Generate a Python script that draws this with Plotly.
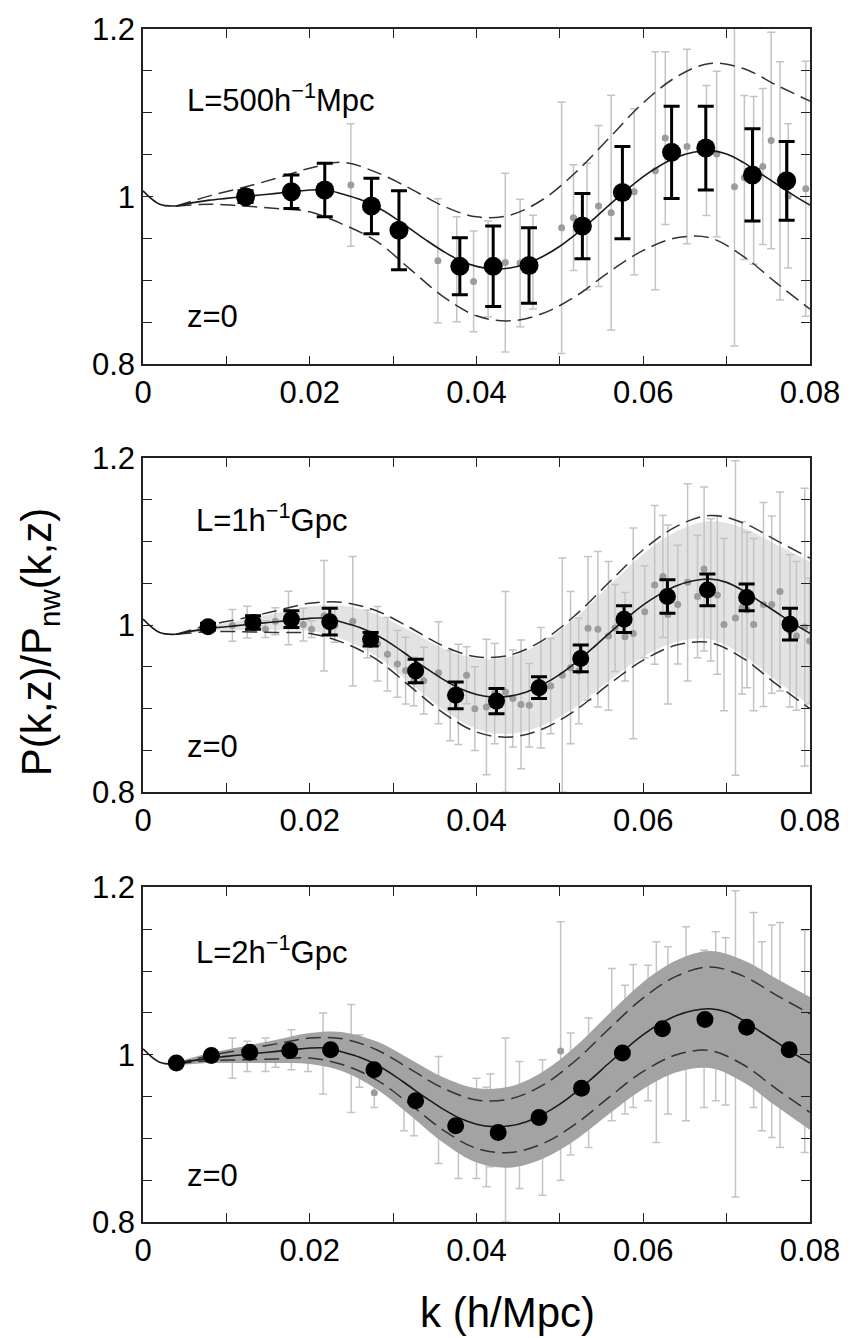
import plotly.graph_objects as go

# ---------------- data ----------------
K_MODEL = [0.000, 0.002, 0.004, 0.006, 0.008, 0.010, 0.012, 0.014, 0.016, 0.018,
           0.020, 0.022, 0.024, 0.026, 0.028, 0.030, 0.032, 0.034, 0.036, 0.038,
           0.040, 0.042, 0.044, 0.046, 0.048, 0.050, 0.052, 0.054, 0.056, 0.058,
           0.060, 0.062, 0.064, 0.066, 0.068, 0.070, 0.072, 0.074, 0.076, 0.078, 0.080]
MODEL = [1.007, 0.991, 0.989, 0.993, 0.996, 0.998, 1.000, 1.002, 1.004, 1.006,
         1.008, 1.008, 1.003, 0.997, 0.988, 0.976, 0.962, 0.948, 0.935, 0.924,
         0.917, 0.914, 0.915, 0.920, 0.929, 0.941, 0.956, 0.973, 0.991, 1.008,
         1.024, 1.037, 1.047, 1.053, 1.055, 1.051, 1.041, 1.028, 1.015, 1.002, 0.990]

K_ENV = [0.004, 0.008, 0.012, 0.016, 0.020, 0.024, 0.028, 0.032, 0.036, 0.040,
         0.044, 0.048, 0.052, 0.056, 0.060, 0.064, 0.068, 0.072, 0.076, 0.080]
UP1 = [0.989, 1.001, 1.011, 1.022, 1.034, 1.041, 1.029, 1.010, 0.989, 0.976,
       0.978, 0.997, 1.030, 1.071, 1.112, 1.143, 1.159, 1.153, 1.133, 1.114]
LO1 = [0.989, 0.991, 0.989, 0.986, 0.982, 0.967, 0.947, 0.914, 0.881, 0.858,
       0.852, 0.861, 0.882, 0.911, 0.936, 0.951, 0.951, 0.929, 0.897, 0.866]
UP2 = [0.989, 1.000, 1.008, 1.017, 1.026, 1.027, 1.017, 0.997, 0.975, 0.962,
       0.964, 0.982, 1.013, 1.052, 1.090, 1.118, 1.131, 1.122, 1.101, 1.080]
LO2 = [0.989, 0.992, 0.992, 0.991, 0.990, 0.979, 0.959, 0.927, 0.895, 0.872,
       0.866, 0.876, 0.899, 0.930, 0.958, 0.976, 0.979, 0.960, 0.929, 0.900]
UP3 = [0.989, 0.999, 1.006, 1.013, 1.020, 1.019, 1.006, 0.983, 0.960, 0.946,
       0.947, 0.964, 0.994, 1.032, 1.068, 1.094, 1.105, 1.094, 1.071, 1.049]
LO3 = [0.989, 0.993, 0.994, 0.995, 0.996, 0.988, 0.970, 0.941, 0.910, 0.888,
       0.883, 0.894, 0.918, 0.950, 0.980, 1.000, 1.005, 0.988, 0.959, 0.931]
# dense cloud of individual modes (panel 3: medium gray, panel 2: light haze)
BAND3_HI = [0.991, 1.002, 1.010, 1.018, 1.026, 1.027, 1.016, 0.995, 0.973, 0.960,
            0.962, 0.980, 1.011, 1.050, 1.087, 1.113, 1.124, 1.113, 1.091, 1.069]
BAND3_LO = [0.987, 0.990, 0.990, 0.990, 0.989, 0.980, 0.959, 0.928, 0.895, 0.871,
            0.865, 0.876, 0.899, 0.930, 0.959, 0.979, 0.984, 0.967, 0.938, 0.910]
BAND2_HI = [0.990, 0.999, 1.006, 1.014, 1.022, 1.023, 1.013, 0.993, 0.972, 0.960,
            0.962, 0.980, 1.010, 1.048, 1.085, 1.112, 1.124, 1.116, 1.096, 1.076]
BAND2_LO = [0.988, 0.993, 0.994, 0.994, 0.993, 0.983, 0.963, 0.931, 0.899, 0.876,
            0.870, 0.880, 0.903, 0.934, 0.962, 0.980, 0.983, 0.964, 0.933, 0.904]

# Panel 1 (L=500 Mpc/h): binned (black) and individual modes (gray)
P1_K = [0.0123, 0.0178, 0.0218, 0.0274, 0.0307, 0.0380, 0.0420, 0.0463, 0.0527, 0.0575,
        0.0634, 0.0675, 0.0731, 0.0772]
P1_V = [1.000, 1.006, 1.008, 0.989, 0.960, 0.917, 0.917, 0.918, 0.965, 1.005,
        1.053, 1.058, 1.026, 1.019]
P1_E = [0.007, 0.020, 0.032, 0.033, 0.047, 0.034, 0.048, 0.045, 0.039, 0.055,
        0.055, 0.050, 0.055, 0.047]
P1G_K = [0.02493, 0.03537, 0.03763, 0.03965, 0.04139, 0.04345, 0.04523, 0.04677, 0.05021, 0.05163,
         0.05326, 0.05464, 0.05615, 0.05891, 0.06145, 0.06264, 0.06525, 0.06758, 0.06881, 0.07094,
         0.07213, 0.07324, 0.07434, 0.07534, 0.07641, 0.07739, 0.07949]
P1G_V = [1.014, 0.9236, 0.9135, 0.899, 0.914, 0.9215, 0.921, 0.922, 0.963, 0.975,
         0.9645, 0.989, 0.981, 1.006, 1.031, 1.07, 1.06, 1.055, 1.051, 1.012,
         1.023, 1.0195, 1.036, 1.067, 1.019, 1.001, 1.0095]
P1G_E = [0.073, 0.074, 0.0625, 0.06, 0.057, 0.1065, 0.076, 0.056, 0.15, 0.063,
         0.0755, 0.096, 0.14, 0.099, 0.142, 0.103, 0.116, 0.0775, 0.0987, 0.19,
         0.0977, 0.1, 0.093, 0.129, 0.142, 0.086, 0.152]

# Panel 2 (L=1 Gpc/h)
P2_K = [0.0078, 0.0132, 0.0178, 0.0224, 0.0273, 0.0327, 0.0375, 0.0424, 0.0475, 0.0525,
        0.0577, 0.0629, 0.0677, 0.0724, 0.0776]
P2_V = [0.998, 1.003, 1.007, 1.004, 0.983, 0.945, 0.916, 0.909, 0.925, 0.960,
        1.007, 1.034, 1.042, 1.033, 1.001]
P2_E = [0.004, 0.008, 0.010, 0.016, 0.008, 0.014, 0.016, 0.015, 0.013, 0.016,
        0.016, 0.020, 0.019, 0.016, 0.019]
P2G_K = [0.01072, 0.0125, 0.01468, 0.01587, 0.01745, 0.01923, 0.02022, 0.02172, 0.02299, 0.02516,
         0.02694, 0.02813, 0.02932, 0.03051, 0.0315, 0.03249, 0.03367,
         0.03545, 0.03684, 0.03783, 0.03881, 0.0398, 0.04119, 0.04218, 0.04348, 0.04436, 0.04534,
         0.04633, 0.04772, 0.0489, 0.05029, 0.05128, 0.05227, 0.05338, 0.05456, 0.05583, 0.05662,
         0.05781, 0.0588, 0.06018, 0.06137, 0.06236, 0.06295, 0.06414, 0.06532, 0.06651, 0.0673,
         0.0681, 0.06889, 0.06968, 0.07106, 0.07185, 0.07245, 0.07324, 0.07442, 0.07541, 0.0764,
         0.07759, 0.07838, 0.07937, 0.07996]
P2G_V = [0.9995, 1.0035, 0.995, 1.0045, 1.0085, 1.0005, 0.995, 1.011, 0.9995, 1.0045,
         0.9895, 0.9775, 0.965, 0.9535, 0.9455, 0.9325, 0.9335,
         0.943, 0.9155, 0.917, 0.94, 0.90, 0.902, 0.918, 0.92, 0.912, 0.905,
         0.904, 0.925, 0.927, 0.94, 0.949, 0.945, 0.996, 0.995, 0.987, 0.9965,
         0.986, 0.99, 1.016, 1.048, 1.058, 1.0125, 1.0245, 1.051, 1.034, 1.067,
         1.042, 1.036, 1.0005, 1.0085, 1.0205, 1.018, 1.0005, 1.0245, 1.0245, 1.04,
         0.993, 0.987, 0.9975, 0.981]
P2G_E = [0.019, 0.019, 0.01, 0.016, 0.032, 0.0195, 0.01, 0.066, 0.02, 0.0775,
         0.0285, 0.0445, 0.044, 0.04, 0.04, 0.029, 0.04,
         0.061, 0.054, 0.06, 0.034, 0.05, 0.081, 0.06, 0.12, 0.058, 0.077,
         0.05, 0.072, 0.057, 0.14, 0.091, 0.063, 0.086, 0.093, 0.089, 0.052,
         0.053, 0.126, 0.055, 0.095, 0.073, 0.107, 0.071, 0.118, 0.073, 0.098,
         0.085, 0.095, 0.103, 0.188, 0.103, 0.093, 0.103, 0.122, 0.106, 0.119,
         0.091, 0.089, 0.166, 0.075]

# Panel 3 (L=2 Gpc/h)
P3_K = [0.0040, 0.0082, 0.0128, 0.0176, 0.0225, 0.0277, 0.0327, 0.0375, 0.0426, 0.0475,
        0.0526, 0.0575, 0.0623, 0.0674, 0.0724, 0.0775]
P3_V = [0.990, 0.999, 1.003, 1.005, 1.006, 0.982, 0.945, 0.915, 0.907, 0.925,
        0.960, 1.002, 1.031, 1.042, 1.033, 1.006]
P3G_K = [0.01072, 0.0125, 0.0147, 0.0159, 0.0178, 0.0198, 0.0216, 0.02497, 0.02596, 0.02774,
         0.0313, 0.03249, 0.03545, 0.03783, 0.04, 0.04119, 0.04166, 0.04348, 0.04515, 0.04792,
         0.05009, 0.05128, 0.05345, 0.05622, 0.05781, 0.0588, 0.06058, 0.06157, 0.06295, 0.06513,
         0.0673, 0.06869, 0.06988, 0.07106, 0.07324, 0.07423, 0.07541, 0.0764, 0.07937]
P3G_V = [0.996, 0.998, 1.0, 1.0, 1.006, 1.002, 1.0015, 0.9955, 0.9925, 0.9545,
         0.9485, 0.934, 0.934, 0.9065, 0.912, 0.9015, 0.9215, 0.91, 0.916, 0.913,
         1.0045, 0.953, 0.9665, 1.012, 1.006, 1.0225, 1.026, 1.015, 1.029, 1.037,
         1.031, 1.046, 1.04, 1.013, 1.0535, 1.022, 1.028, 1.0235, 1.016]
P3G_E = [0.024, 0.018, 0.02, 0.015, 0.024, 0.022, 0.0485, 0.0645, 0.0315, 0.0175,
         0.0395, 0.031, 0.064, 0.0545, 0.06, 0.0595, 0.0555, 0.11, 0.076, 0.081,
         0.1545, 0.073, 0.0775, 0.091, 0.077, 0.0855, 0.081, 0.12, 0.1, 0.116,
         0.094, 0.101, 0.1, 0.183, 0.1165, 0.113, 0.127, 0.1345, 0.133]

BOX_LABELS = ["L=500h<sup>\u22121</sup>Mpc", "L=1h<sup>\u22121</sup>Gpc", "L=2h<sup>\u22121</sup>Gpc"]
Z_LABEL = "z=0"

X_MAJOR = [0.0, 0.02, 0.04, 0.06, 0.08]
X_MAJOR_TEXT = ["0", "0.02", "0.04", "0.06", "0.08"]
X_MINOR = [0.01, 0.03, 0.05, 0.07]
Y_MAJOR = [0.8, 1.0, 1.2]
Y_MAJOR_TEXT = ["0.8", "1", "1.2"]
Y_MINOR = [0.85, 0.9, 0.95, 1.05, 1.1, 1.15]

# ---------------- styling ----------------
FONT = "Liberation Sans, Arial, Helvetica, sans-serif"
GRAY_BAR = "#c4c4c4"
GRAY_DOT = "#9c9c9c"
LINE_C = "#1a1a1a"
DASH = "15px,7px"

fig = go.Figure()

panels = [
    dict(up=UP1, lo=LO1, bk=P1_K, bv=P1_V, be=P1_E, gk=P1G_K, gv=P1G_V, ge=P1G_E, msize=19,
         band=None, bandcolor=None),
    dict(up=UP2, lo=LO2, bk=P2_K, bv=P2_V, be=P2_E, gk=P2G_K, gv=P2G_V, ge=P2G_E, msize=17,
         band=(BAND2_LO, BAND2_HI), bandcolor="#e3e3e3"),
    dict(up=UP3, lo=LO3, bk=P3_K, bv=P3_V, be=None, gk=P3G_K, gv=P3G_V, ge=P3G_E, msize=17,
         band=(BAND3_LO, BAND3_HI), bandcolor="#a3a3a3"),
]

for i, p in enumerate(panels):
    xa = "x" if i == 0 else f"x{i+1}"
    ya = "y" if i == 0 else f"y{i+1}"
    common = dict(xaxis=xa, yaxis=ya, showlegend=False, hoverinfo="skip")
    if p["band"] is not None and i == 1:
        lo, hi = p["band"]
        fig.add_trace(go.Scatter(x=K_ENV, y=lo, mode="lines", line=dict(width=0, shape="spline"), **common))
        fig.add_trace(go.Scatter(x=K_ENV, y=hi, mode="lines", line=dict(width=0, shape="spline"),
                                 fill="tonexty", fillcolor=p["bandcolor"], **common))
    fig.add_trace(go.Scatter(
        x=p["gk"], y=p["gv"], mode="markers",
        marker=dict(size=7, color=GRAY_DOT),
        error_y=dict(type="data", array=p["ge"], color=GRAY_BAR, thickness=1.5, width=4),
        **common))
    if p["band"] is not None and i == 2:
        lo, hi = p["band"]
        fig.add_trace(go.Scatter(x=K_ENV, y=lo, mode="lines", line=dict(width=0, shape="spline"), **common))
        fig.add_trace(go.Scatter(x=K_ENV, y=hi, mode="lines", line=dict(width=0, shape="spline"),
                                 fill="tonexty", fillcolor=p["bandcolor"], **common))
    fig.add_trace(go.Scatter(x=K_ENV, y=p["up"], mode="lines",
                             line=dict(color="#333333", width=1.5, dash=DASH, shape="spline"), **common))
    fig.add_trace(go.Scatter(x=K_ENV, y=p["lo"], mode="lines",
                             line=dict(color="#333333", width=1.5, dash=DASH, shape="spline"), **common))
    fig.add_trace(go.Scatter(x=K_MODEL, y=MODEL, mode="lines",
                             line=dict(color=LINE_C, width=1.6, shape="spline"), **common))
    err = None
    if p["be"] is not None:
        err = dict(type="data", array=p["be"], color="black", thickness=3, width=8)
    fig.add_trace(go.Scatter(x=p["bk"], y=p["bv"], mode="markers",
                             marker=dict(size=p["msize"], color="black"),
                             error_y=err, **common))

domains = [[0.7188, 1.0], [0.3602, 0.6406], [0.0, 0.2804]]

axis_common = dict(
    showgrid=False, zeroline=False, showline=True, linecolor="#222222", linewidth=1.6,
    mirror="ticks", ticks="inside", ticklen=9, tickwidth=1.3, tickcolor="#222222",
    tickfont=dict(family=FONT, size=31, color="black"),
)

layout = dict(
    width=852, height=1338,
    margin=dict(l=143, r=35, t=20, b=116),
    paper_bgcolor="white", plot_bgcolor="white",
    font=dict(family=FONT, color="black"),
    showlegend=False,
)
annotations = []
for i in range(3):
    xs = "" if i == 0 else str(i + 1)
    layout[f"xaxis{xs}"] = dict(
        axis_common, domain=[0, 1], anchor=f"y{xs}", range=[0, 0.08],
        tickmode="array", tickvals=X_MAJOR, ticktext=X_MAJOR_TEXT,
        minor=dict(tickvals=X_MINOR, ticklen=9, tickwidth=1.3, tickcolor="#222222", ticks="inside"),
    )
    layout[f"yaxis{xs}"] = dict(
        axis_common, domain=domains[i], anchor=f"x{xs}", range=[0.8, 1.2],
        tickmode="array", tickvals=Y_MAJOR, ticktext=Y_MAJOR_TEXT, ticklen=10,
        minor=dict(tickvals=Y_MINOR, ticklen=9, tickwidth=1.3, tickcolor="#222222", ticks="inside"),
    )
    lab_y = [0.793, 0.819, 0.813][i]
    lab_x = [0.0623, 0.077, 0.077][i]
    z_y = [0.142, 0.136, 0.139][i]
    annotations.append(dict(text=BOX_LABELS[i], xref=f"x{xs} domain", yref=f"y{xs} domain",
                            x=lab_x, y=lab_y, xanchor="left", yanchor="middle", showarrow=False,
                            font=dict(family=FONT, size=31, color="black")))
    annotations.append(dict(text=Z_LABEL, xref=f"x{xs} domain", yref=f"y{xs} domain",
                            x=0.0623, y=z_y, xanchor="left", yanchor="middle", showarrow=False,
                            font=dict(family=FONT, size=31, color="black")))

annotations.append(dict(text="P(k,z)/P<sub>nw</sub>(k,z)", xref="paper", yref="paper",
                        x=-0.1558, y=0.486, xanchor="center", yanchor="middle", textangle=-90,
                        showarrow=False, font=dict(family=FONT, size=42, color="black")))
annotations.append(dict(text="k (h/Mpc)", xref="paper", yref="paper",
                        x=0.546, y=-0.0757, xanchor="center", yanchor="middle",
                        showarrow=False, font=dict(family=FONT, size=42, color="black")))
layout["annotations"] = annotations

fig.update_layout(**layout)
fig.write_html("out.html")
